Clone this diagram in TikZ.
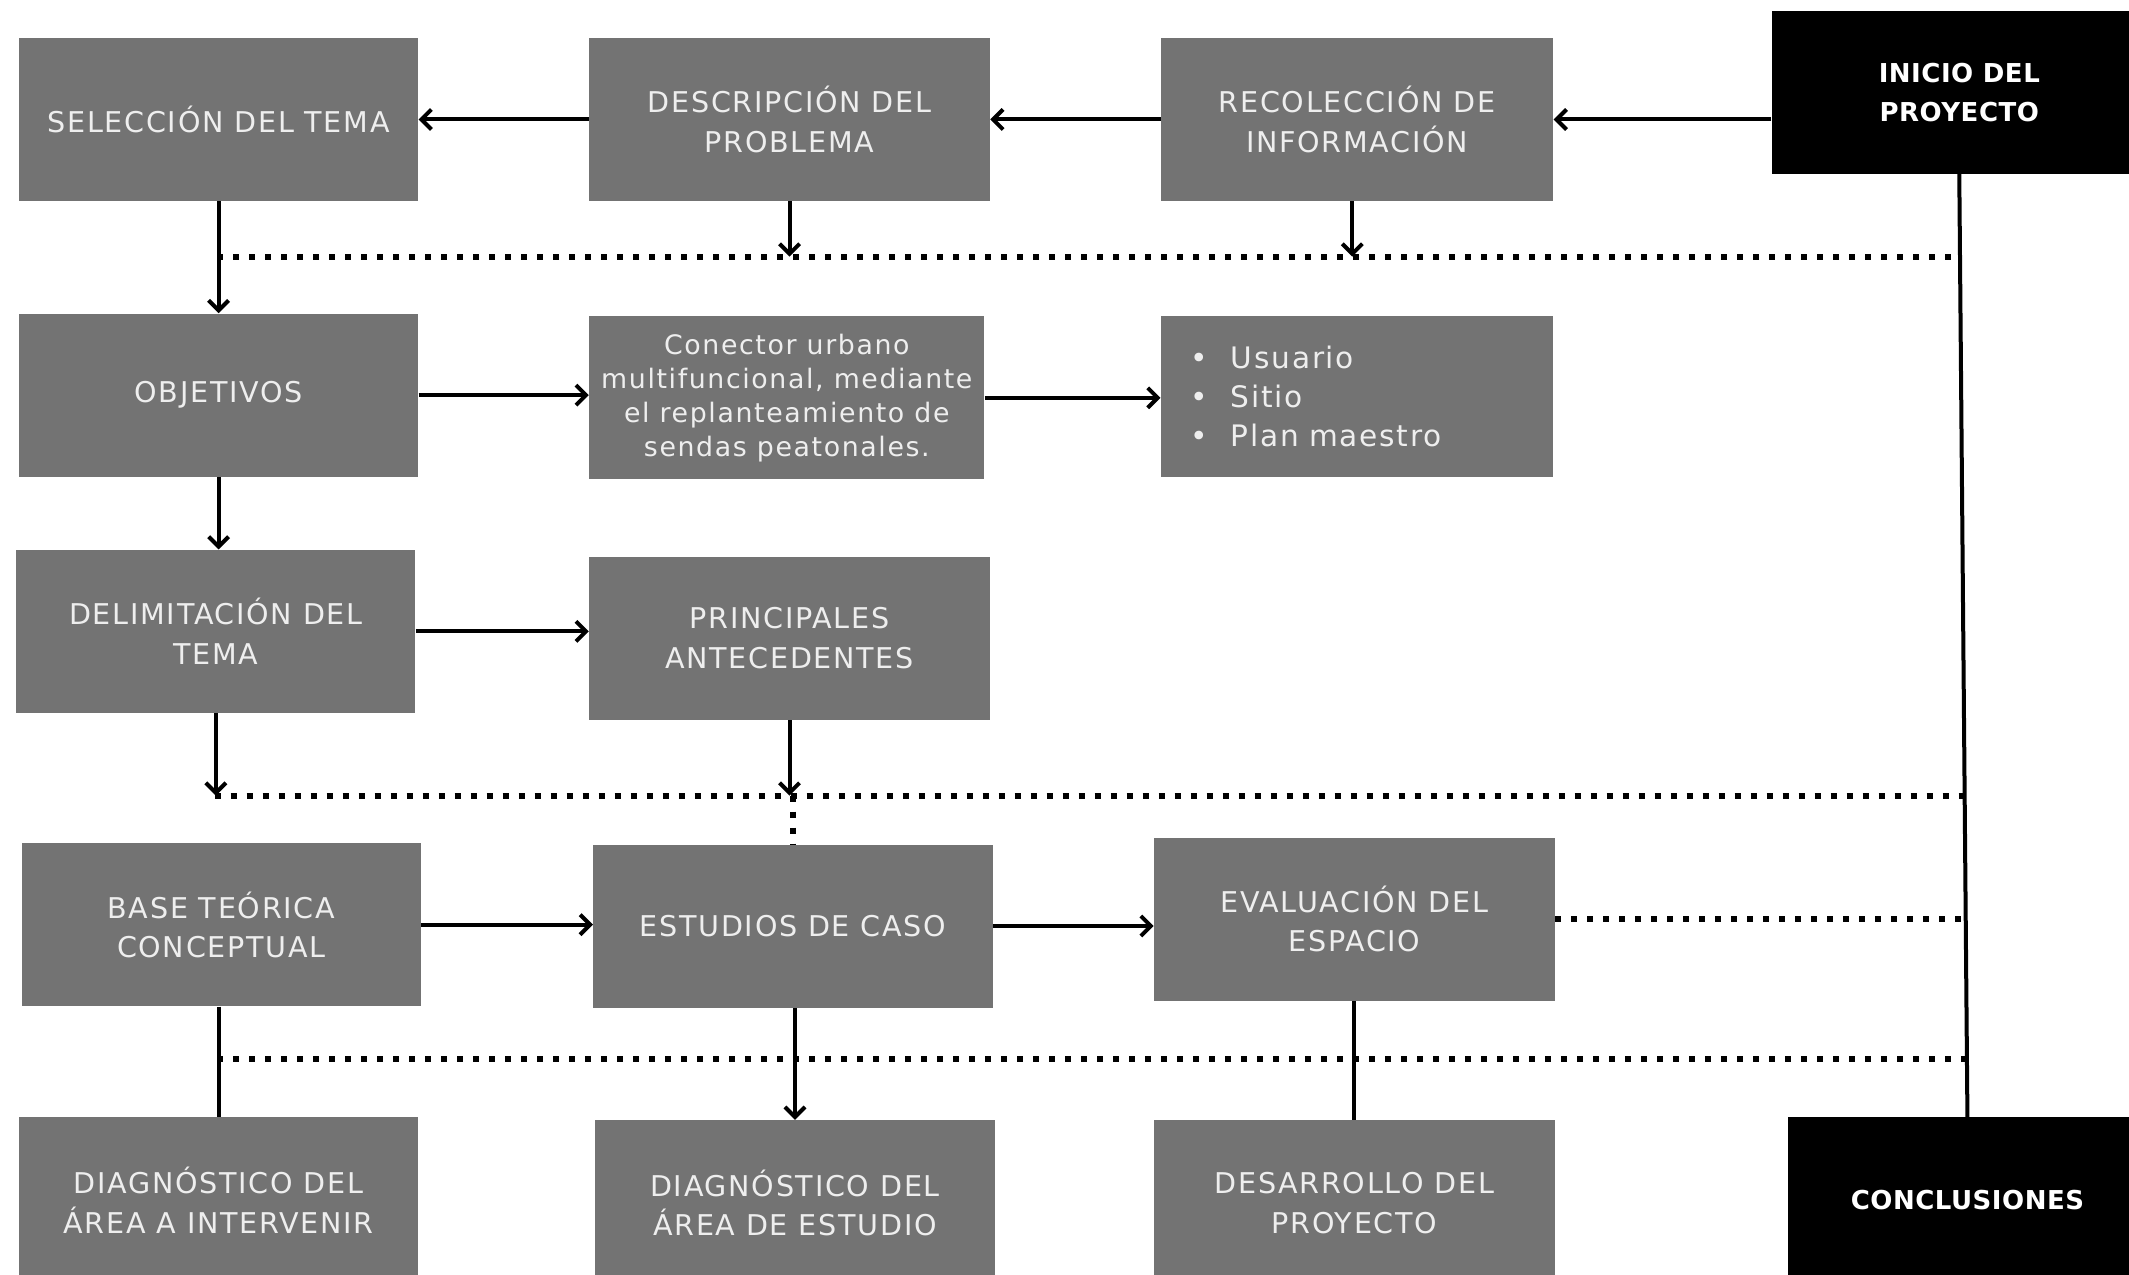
\documentclass[tikz,border=0pt]{standalone}
\usepackage{fontspec}
\setmainfont{DejaVu Sans}[LetterSpace=6, BoldFeatures={LetterSpace=2}]
\usetikzlibrary{arrows.meta}
\definecolor{boxgray}{HTML}{737373}
\definecolor{txtgray}{HTML}{EEEEEE}
\begin{document}
\begin{tikzpicture}[x=0.6789pt,y=-0.6789pt,
  box/.style={fill=boxgray, text=txtgray, minimum width=199.6pt, minimum height=81.5pt,
    align=center, inner sep=0pt, font=\fontsize{14.3}{19.7}\selectfont},
  blk/.style={fill=black, text=white, minimum width=187.4pt, minimum height=81.5pt,
    align=center, inner sep=0pt, font=\fontsize{13}{19.7}\selectfont\bfseries},
  conn/.style={line width=2pt},
  arr/.style={conn, -{Straight Barb[length=5pt,width=10pt,line width=2pt]}},
  dotline/.style={line width=3pt, dash pattern=on 3pt off 5pt}]
\useasboundingbox (0,0) rectangle (1568,939);
\clip (0,0) rectangle (1568,939);

% row 1
\node[box] (sel) at (161,88) {SELECCIÓN DEL TEMA};
\node[box, minimum width=200.3pt] (desc) at (581.5,88) {DESCRIPCIÓN DEL\\PROBLEMA};
\node[box, minimum width=196.2pt] (rec) at (999.5,88) {RECOLECCIÓN DE\\INFORMACIÓN};
\node[blk] (ini) at (1443,68) {INICIO DEL\\PROYECTO};

% row 2
\node[box] (obj) at (161,291) {OBJETIVOS};
\node[box, minimum width=197.6pt, font=\fontsize{13.4}{17}\selectfont] (con) at (579.5,293)
  {Conector urbano\\multifuncional, mediante\\el replanteamiento de\\sendas peatonales.};
\node[box, minimum width=196.2pt, minimum height=80.1pt, align=left, text width=166.2pt,
  inner xsep=15pt, font=\fontsize{14.8}{19.4}\selectfont] (bul) at (999.5,292)
  {\makebox[20pt][l]{•}Usuario\\\makebox[20pt][l]{•}Sitio\\\makebox[20pt][l]{•}Plan maestro};

% row 3
\node[box] (del) at (159,465) {DELIMITACIÓN DEL\\TEMA};
\node[box, minimum width=200.3pt] (pri) at (581.5,470) {PRINCIPALES\\ANTECEDENTES};

% row 4
\node[box] (bas) at (163,681) {BASE TEÓRICA\\CONCEPTUAL};
\node[box] (est) at (584,682) {ESTUDIOS DE CASO};
\node[box, minimum width=200.3pt] (eva) at (997.5,677) {EVALUACIÓN DEL\\ESPACIO};

% row 5
\node[box, minimum height=82.8pt] (dg1) at (161,884) {DIAGNÓSTICO DEL\\ÁREA A INTERVENIR};
\node[box, minimum width=200.3pt, minimum height=82.8pt] (dg2) at (585.5,886) {DIAGNÓSTICO DEL\\ÁREA DE ESTUDIO};
\node[box, minimum width=200.3pt, minimum height=82.8pt] (des) at (997.5,886) {DESARROLLO DEL\\PROYECTO};
\node[blk, minimum width=179.2pt, minimum height=82.8pt] (conc) at (1449,884) {CONCLUSIONES};

% dotted line anchors
\coordinate (d1L) at (160,189);
\coordinate (d1R) at (1443.5,189);
\coordinate (d2L) at (158,586);
\coordinate (d2R) at (1447,586);
\coordinate (d4R) at (1447.7,677);
\coordinate (d3L) at (160,780);
\coordinate (d3R) at (1448.6,780);

% vertical spine
\draw[conn] (ini.south) -- (conc.north);

% dotted lines
\draw[dotline] (d1L) -- (d1R);
\draw[dotline] (d2L) -- (d2R);
\draw[dotline] (est.north |- d2L) -- (est.north);
\draw[dotline] (eva.east) -- (d4R);
\draw[dotline] (d3L) -- (d3R);

% row 1 connectors
\draw[arr] (desc.west) -- (sel.east);
\draw[arr] (rec.west) -- (desc.east);
\draw[arr] (ini.west |- rec.east) -- (rec.east);
\draw[arr] (sel.south) -- (obj.north);
\draw[arr] (desc.south) -- (desc.south |- d1L);
\draw[arr] ([xshift=-2.4pt]rec.south) -- ([xshift=-2.4pt]rec.south |- d1L);

% row 2 connectors
\draw[arr] (obj.east) -- (con.west |- obj.east);
\draw[arr] (con.east) -- (bul.west |- con.east);
\draw[arr] (obj.south) -- (obj.south |- del.north);

% row 3 connectors
\draw[arr] (del.east) -- (pri.west |- del.east);
\draw[arr] (del.south) -- (del.south |- d2L);
\draw[arr] (pri.south) -- (pri.south |- d2L);

% row 4 connectors
\draw[arr] (bas.east) -- (est.west |- bas.east);
\draw[arr] (est.east) -- (eva.west |- est.east);
\draw[conn] (dg1.north |- bas.south) -- (dg1.north);
\draw[arr] (dg2.north |- est.south) -- (dg2.north);
\draw[conn] (eva.south) -- (eva.south |- des.north);
\end{tikzpicture}
\end{document}
